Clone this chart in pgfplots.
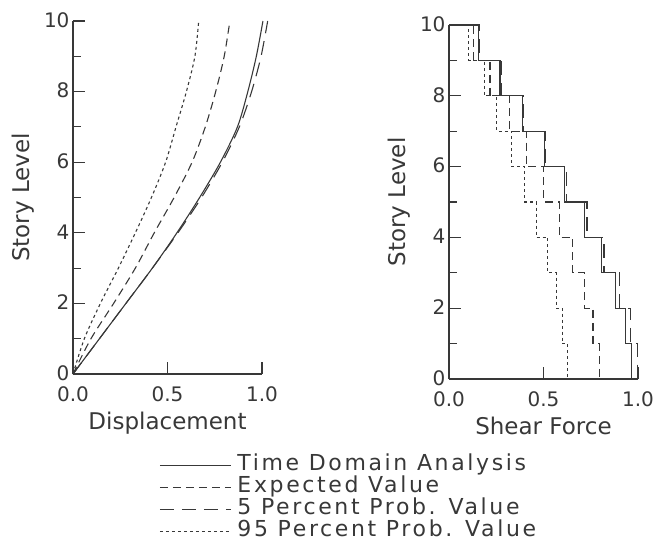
\documentclass[border=0pt]{standalone}
\usepackage{fontspec}
\setmainfont{DejaVu Sans}
\newfontfamily\legfont{DejaVu Sans}[LetterSpace=12]
\usepackage{pgfplots}
\pgfplotsset{compat=1.18}
\definecolor{ink}{gray}{0.22}

\begin{document}
\begin{tikzpicture}[x=1pt,y=1pt]
\useasboundingbox (0,0) rectangle (659,547);
\pgfplotsset{
  every axis/.append style={
    scale only axis,
    xmin=0, xmax=1, ymin=0, ymax=10,
    axis lines=left,
    axis line style={ink, line width=1.1pt, -},
    xtick={0,0.5,1}, xticklabels={0.0,0.5,1.0},
    ytick={0,2,...,10}, minor ytick={1,3,...,9},
    tick align=inside,
    major tick length=12pt, minor tick length=8pt,
    every tick/.style={ink, line width=1.1pt},
    /pgf/number format/assume math mode=true,
    ticklabel style={font=\fontsize{20}{20}\selectfont, text=ink},
    xticklabel style={yshift=-9pt},
    yticklabel style={yshift=1pt},
    label style={font=\fontsize{23}{23}\selectfont, text=ink},
    xlabel style={yshift=-3pt},
    ylabel={Story Level},
    ylabel style={yshift=3pt},
    clip=false,
  },
  sol/.style={ink, line width=1.1pt},
  expv/.style={ink, line width=1.1pt, dash pattern=on 8pt off 5pt},
  pfive/.style={ink, line width=1.1pt, dash pattern=on 14pt off 8pt},
  pninetyfive/.style={ink, line width=1.1pt, dash pattern=on 3pt off 3pt},
}

% displacement profiles
\begin{axis}[
  at={(73pt,173pt)}, anchor=south west,
  width=189pt, height=353pt,
  xlabel={Displacement},
  legend style={at={(0.44,-0.222)}, anchor=north west, draw=none, fill=none,
    font=\legfont\fontsize{22}{22}\selectfont, text=ink,
    nodes={inner sep=0pt, text height=16pt, text depth=6pt},
    cells={anchor=west}, row sep=0pt},
  legend image code/.code={\draw[#1] (0pt,0pt) -- (71pt,0pt); \path (77pt,0pt);},
]
\addplot[sol, smooth] coordinates {
  (0,0) (0.14,1) (0.28,2) (0.42,3) (0.55,4) (0.67,5)
  (0.78,6) (0.87,7) (0.925,8) (0.97,9) (1.005,10)};
\addlegendentry{Time Domain Analysis}
\addplot[expv, smooth] coordinates {
  (0,0) (0.095,1) (0.215,2) (0.33,3) (0.43,4) (0.535,5)
  (0.63,6) (0.70,7) (0.755,8) (0.80,9) (0.83,10)};
\addlegendentry{Expected Value}
\addplot[pfive, smooth] coordinates {
  (0,0) (0.14,1) (0.28,2) (0.42,3) (0.555,4) (0.68,5)
  (0.79,6) (0.88,7) (0.945,8) (0.995,9) (1.03,10)};
\addlegendentry{5 Percent Prob. Value}
\addplot[pninetyfive, smooth] coordinates {
  (0,0) (0.06,1) (0.145,2) (0.24,3) (0.33,4) (0.415,5)
  (0.49,6) (0.545,7) (0.60,8) (0.645,9) (0.665,10)};
\addlegendentry{95 Percent Prob. Value}
\end{axis}

% shear force distributions
\begin{axis}[
  at={(449pt,168pt)}, anchor=south west,
  width=189pt, height=354pt,
  xlabel={Shear Force},
]
\addplot[sol] coordinates {
  (0,10) (0.155,10) (0.155,9) (0.27,9) (0.27,8) (0.389,8) (0.389,7)
  (0.505,7) (0.505,6) (0.61,6) (0.61,5) (0.716,5) (0.716,4) (0.805,4)
  (0.805,3) (0.882,3) (0.882,2) (0.933,2) (0.933,1) (0.965,1) (0.965,0)};
\addplot[expv] coordinates {
  (0,10) (0.13,10) (0.13,9) (0.217,9) (0.217,8) (0.318,8) (0.318,7)
  (0.41,7) (0.41,6) (0.50,6) (0.50,5) (0.583,5) (0.583,4) (0.654,4)
  (0.654,3) (0.718,3) (0.718,2) (0.762,2) (0.762,1) (0.794,1) (0.794,0)};
\addplot[pfive] coordinates {
  (0,10) (0.16,10) (0.16,9) (0.275,9) (0.275,8) (0.395,8) (0.395,7)
  (0.51,7) (0.51,6) (0.62,6) (0.62,5) (0.73,5) (0.73,4) (0.82,4)
  (0.82,3) (0.903,3) (0.903,2) (0.959,2) (0.959,1) (0.997,1) (0.997,0)};
\addplot[pninetyfive] coordinates {
  (0,10) (0.105,10) (0.105,9) (0.186,9) (0.186,8) (0.253,8) (0.253,7)
  (0.332,7) (0.332,6) (0.40,6) (0.40,5) (0.462,5) (0.462,4) (0.522,4)
  (0.522,3) (0.568,3) (0.568,2) (0.60,2) (0.60,1) (0.628,1) (0.628,0)};
\end{axis}
\end{tikzpicture}
\end{document}
